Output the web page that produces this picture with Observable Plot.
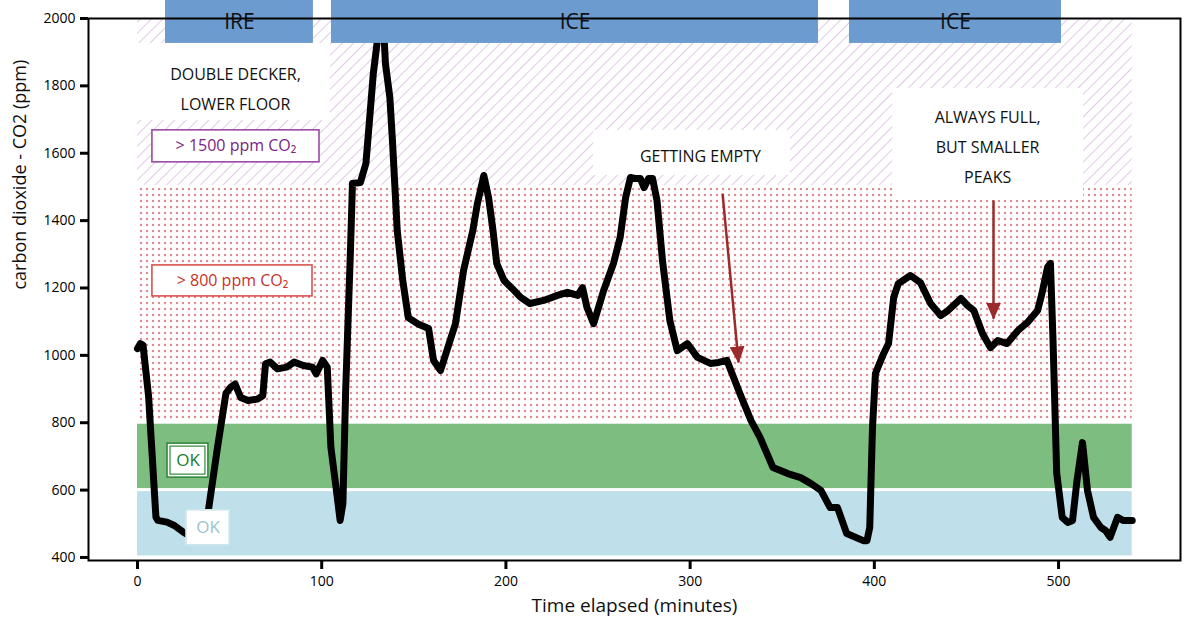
<!DOCTYPE html>
<html>
<head>
<meta charset="utf-8">
<script src="https://cdn.jsdelivr.net/npm/d3@7"></script>
<script src="https://cdn.jsdelivr.net/npm/@observablehq/plot@0.6"></script>
<style>
  html, body { margin: 0; padding: 0; background: white; }
  #chart { width: 1200px; height: 632px; }
</style>
</head>
<body>
<div id="chart"></div>
<script>
// ---- data ----
const time = [0,1.5,3,6,8,10,11,16,20,25,28,33,38.5,43.4,48,50.5,53,56,60,65,68,69.5,72,76,81,85,90,95,97,100.5,103,105,107.5,110,111.5,113,115.6,116.7,121,124,126.5,128,130,131.5,133,134.6,137,138.4,141,144,147,152,158,160.7,164.5,168,172.6,177,182,184.5,188,190.6,193,195,199,203.5,208,213,220.5,228,233.4,239,241.6,244,247.6,253,258.4,262,265,267.6,270,273,275,277.4,279.6,282,285,289,293,298.5,304,311,315.4,320,327,333,338,345,353,360,365.4,371,376,380,385,394,396,397.5,399,400.6,405,407.7,410.5,413,419.6,425,430.5,436,440,447,450.6,454,458.7,463,467,472,478,483,488.6,491,494,495.6,497,499,502,505,507.6,510,513,515.7,519,523,525.5,528,532,535,540];
const co2 = [1020,1035,1030,880,700,520,510,505,495,475,465,480,540,726,887,905,915,875,866,870,880,975,980,960,965,980,970,965,945,985,965,726,620,510,560,895,1311,1510,1513,1570,1735,1836,1925,2040,2040,1866,1765,1637,1370,1222,1112,1094,1080,985,955,1015,1094,1252,1370,1450,1534,1468,1370,1273,1222,1198,1172,1154,1163,1178,1187,1178,1201,1142,1094,1192,1273,1350,1469,1528,1525,1525,1498,1525,1525,1460,1281,1103,1014,1035,994,976,979,985,887,807,756,667,649,637,620,599,548,548,471,450,450,489,786,946,1005,1035,1172,1213,1237,1216,1154,1118,1133,1169,1148,1133,1065,1023,1044,1035,1074,1097,1133,1184,1261,1273,1044,650,519,504,510,628,741,599,519,489,480,460,519,510,510,495];

const xTicks = [0,100,200,300,400,500];
const yTicks = [400,600,800,1000,1200,1400,1600,1800,2000];

// threshold bands (ppm) over the measured time span (minutes)
const bandStart = 0, bandEnd = 540;
const bandLow  = [400, 600, 800, 1500];
const bandHigh = [600, 800, 1500, 2000];

// phases shown in the top header
const phaseLabel = ["IRE", "ICE", "ICE"];
const phaseStart = [15.2, 105.3, 386.5];
const phaseEnd   = [95.5, 369.7, 501.6];

// annotation boxes
const noteText = ["DOUBLE DECKER,\nLOWER FLOOR", "GETTING EMPTY", "ALWAYS FULL,\nBUT SMALLER\nPEAKS"];
const noteX1 = [0, 247.6, 409.9];
const noteX2 = [104.8, 354.5, 513.6];
const noteY1 = [1697, 1534, 1460];
const noteY2 = [1926, 1668, 1792];
const noteCx = [53.2, 305.6, 461.5];
const noteCy = [1801, 1602, 1629];

// threshold labels
const tagText = ["> 1500 ppm CO₂", "> 800 ppm CO₂", "OK", "OK"];
const tagX1 = [8.1, 8.1, 16.3, 26.6];
const tagX2 = [98.8, 95, 38.5, 50];
const tagY1 = [1573, 1175, 637, 436];
const tagY2 = [1668, 1267, 738, 540];

// arrows
const arrowX1 = [317.6, 464.7];
const arrowY1 = [1480, 1460];
const arrowX2 = [326.3, 464.7];
const arrowY2 = [979, 1109];

// ---- build tables ----
const series = time.map((t, i) => ({t, v: co2[i]}));
const bands = bandLow.map((lo, i) => ({x1: bandStart, x2: bandEnd, y1: lo, y2: bandHigh[i], k: i}));
const phases = phaseLabel.map((l, i) => ({label: l, x1: phaseStart[i], x2: phaseEnd[i], cx: (phaseStart[i] + phaseEnd[i]) / 2}));
const notes = noteText.map((s, i) => ({text: s, x1: noteX1[i], x2: noteX2[i], y1: noteY1[i], y2: noteY2[i], cx: noteCx[i], cy: noteCy[i]}));
const tags = tagText.map((s, i) => ({text: s, x1: tagX1[i], x2: tagX2[i], y1: tagY1[i], y2: tagY2[i], cx: (tagX1[i] + tagX2[i]) / 2, cy: (tagY1[i] + tagY2[i]) / 2, k: i}));
const arrows = arrowX1.map((x, i) => ({x1: x, y1: arrowY1[i], x2: arrowX2[i], y2: arrowY2[i]}));

const bandFill = ["#bfe0ea", "#7dbd7f", "url(#dots)", "url(#hatch)"];
const tagStroke = ["#9a4aa6", "#d9534f", "#2f8a3a", "#cfe5ec"];
const tagColor = ["#7b2486", "#c8322d", "#1e7a2e", "#9cc4d0"];
const tagSize = [16, 16, 17, 17];
const font = "'Open Sans', 'DejaVu Sans', sans-serif";

const phaseTop = 2054, phaseBottom = 1926, phaseTextY = 1988;

const svg = Plot.plot({
  width: 1200,
  height: 632,
  marginLeft: 88,
  marginRight: 20,
  marginTop: 18,
  marginBottom: 72,
  x: {domain: [-26.6, 566.2]},
  y: {domain: [391, 2000]},
  style: {fontFamily: font, background: "white", overflow: "visible"},
  marks: [
    Plot.rect(bands, {x1: "x1", x2: "x2", y1: "y1", y2: "y2", fill: d => bandFill[d.k], insetTop: 1.5, insetBottom: 1.5}),
    Plot.rect(notes, {x1: "x1", x2: "x2", y1: "y1", y2: "y2", fill: "white"}),
    Plot.text(notes, {x: "cx", y: "cy", text: "text", fontSize: 16, lineHeight: 1.85, fill: "#111"}),
    Plot.line(series, {x: "t", y: "v", stroke: "black", strokeWidth: 7, strokeLinejoin: "round", strokeLinecap: "round"}),
    Plot.rect(tags, {x1: "x1", x2: "x2", y1: "y1", y2: "y2", fill: "white", stroke: d => tagStroke[d.k], strokeWidth: 1.6}),
    Plot.rect(tags.filter(d => d.k === 2), {x1: "x1", x2: "x2", y1: "y1", y2: "y2", fill: "none", stroke: tagStroke[2], strokeWidth: 1.2, inset: 3}),
    Plot.text(tags, {x: "cx", y: "cy", text: "text", fontSize: d => tagSize[d.k], fill: d => tagColor[d.k]}),
    Plot.link(arrows, {x1: "x1", y1: "y1", x2: "x2", y2: "y2", stroke: "#9b2b2b", strokeWidth: 2.5}),
    Plot.rect(phases, {x1: "x1", x2: "x2", y1: phaseBottom, y2: phaseTop, fill: "#6b9bcf"}),
    Plot.text(phases, {x: "cx", y: phaseTextY, text: "label", fontSize: 21, fill: "#111"}),
    Plot.frame({stroke: "black", strokeWidth: 2}),
    Plot.axisY({ticks: yTicks, tickFormat: d => String(d), tickSize: 8, tickPadding: 5, fontSize: 14, strokeWidth: 3, label: null}),
    Plot.axisX({ticks: xTicks, tickFormat: d => String(d), tickSize: 9, tickPadding: 7, fontSize: 14, strokeWidth: 3, label: null}),
    Plot.text(["Time elapsed (minutes)"], {frameAnchor: "bottom", dy: 51, fontSize: 19, fill: "#111"}),
    Plot.text(["carbon dioxide - CO2 (ppm)"], {frameAnchor: "left", dx: -68, rotate: -90, fontSize: 18, fill: "#111"})
  ]
});

const defs = d3.select(svg).insert("defs", ":first-child");
defs.html(`
  <pattern id="dots" patternUnits="userSpaceOnUse" width="6" height="6">
    <rect width="6" height="6" fill="white"/>
    <circle cx="3" cy="3" r="1.2" fill="#e0898f"/>
  </pattern>
  <pattern id="hatch" patternUnits="userSpaceOnUse" width="8" height="8" patternTransform="rotate(45)">
    <rect width="8" height="8" fill="white"/>
    <line x1="0" y1="0" x2="0" y2="8" stroke="#e2c8e7" stroke-width="2"/>
  </pattern>
  <marker id="ahead" viewBox="0 0 17 15" refX="16" refY="7.5" markerWidth="17" markerHeight="15" markerUnits="userSpaceOnUse" orient="auto">
    <path d="M0,0 L17,7.5 L0,15 z" fill="#9b2b2b"/>
  </marker>
`);
d3.select(svg).selectAll('g[aria-label="link"] path, g[aria-label="link"] line').attr("marker-end", "url(#ahead)");

document.getElementById("chart").appendChild(svg);
</script>
</body>
</html>
